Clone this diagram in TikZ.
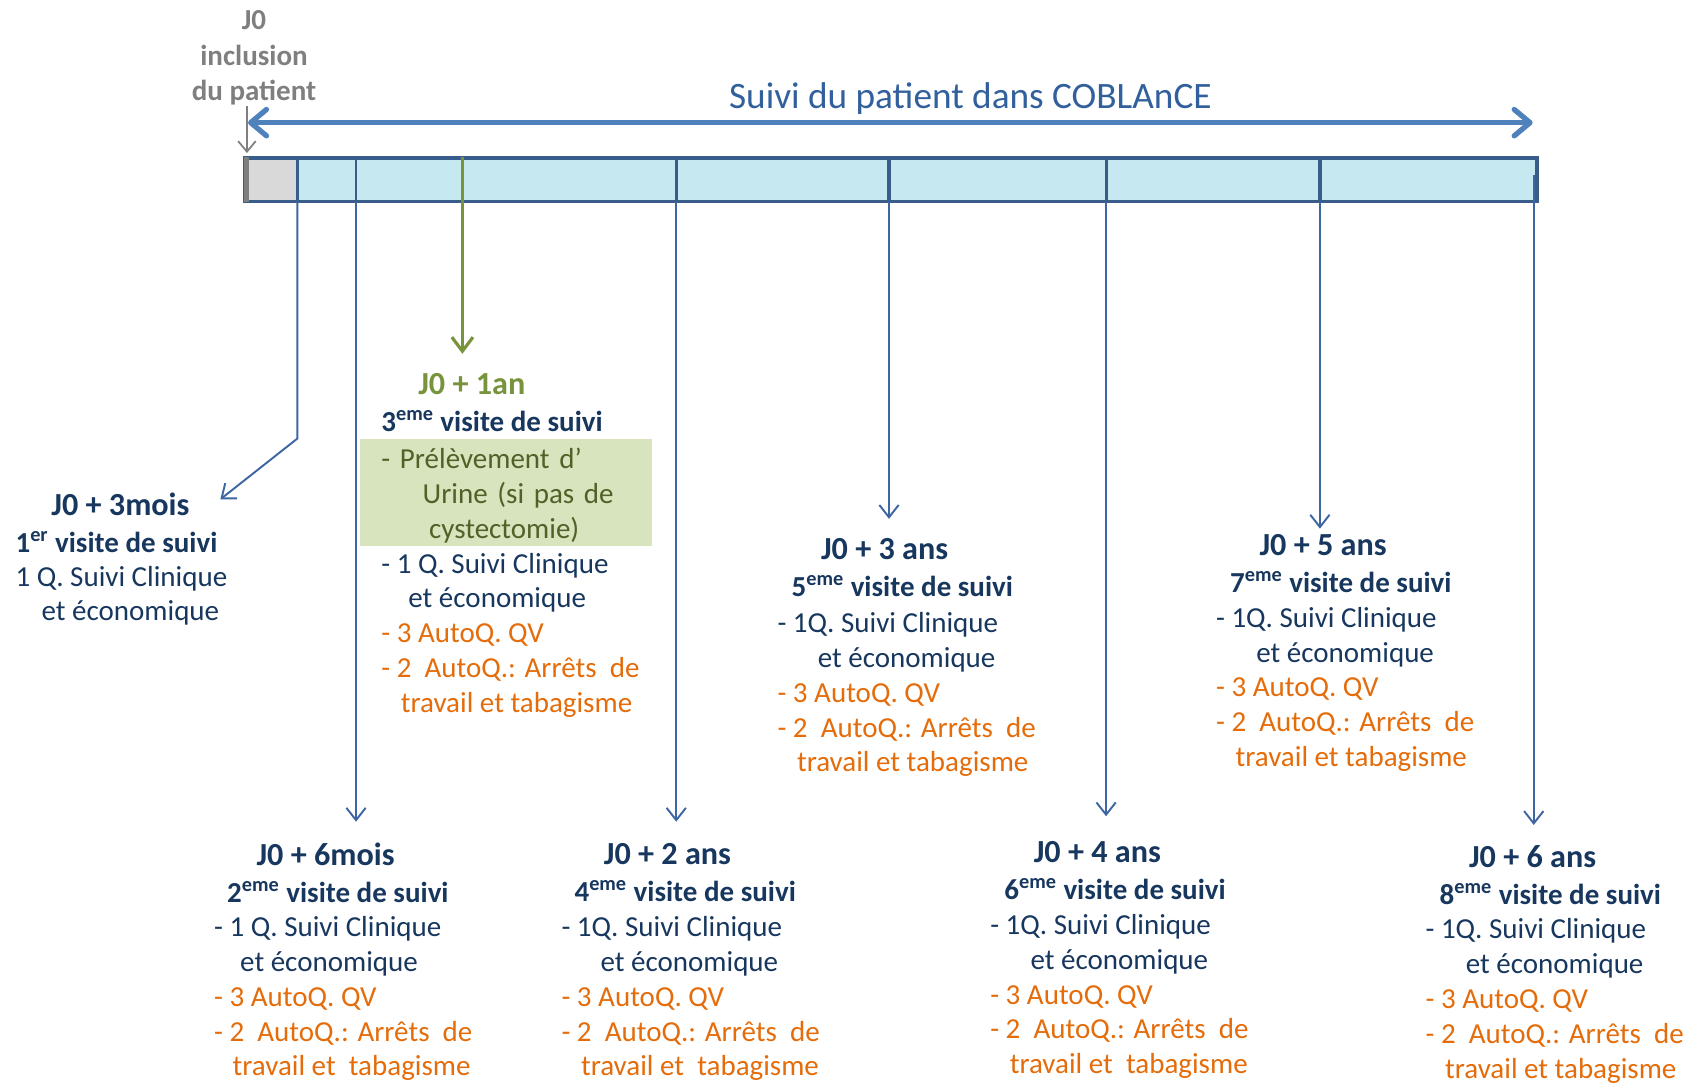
\documentclass[tikz,border=0pt]{standalone}
\usepackage{fontspec}
\setmainfont{Carlito}
\usetikzlibrary{arrows.meta,positioning}

\definecolor{navy}{HTML}{17375E}
\definecolor{orangeQ}{HTML}{E46C0A}
\definecolor{vert}{HTML}{77933C}
\definecolor{vertclair}{HTML}{D7E4BD}
\definecolor{vertfonce}{HTML}{4F6228}
\definecolor{bleutitre}{HTML}{31609C}
\definecolor{bleufleche}{HTML}{4F81BD}
\definecolor{trait}{HTML}{3E66A3}
\definecolor{barreC}{HTML}{385D8A}
\definecolor{bleuclair}{HTML}{C6E8F1}
\definecolor{gristexte}{HTML}{7F7F7F}
\definecolor{grisclair}{HTML}{D9D9D9}

\begin{document}
\begin{tikzpicture}[x=0.0217cm,y=-0.0217cm,
	fleche/.style={draw=trait,line width=1.1pt,-{Straight Barb[length=7pt,width=11pt]}},
	entete/.style={anchor=north west,inner sep=0pt,align=left,text=navy,
		font=\fontsize{16.5}{21}\selectfont\bfseries},
	grand/.style={font=\fontsize{18.3}{21}\selectfont\bfseries},
	liste/.style={anchor=north west,inner sep=0pt,align=left,text=navy,
		font=\fontsize{16.5}{19.8}\selectfont},]
	\useasboundingbox (0,0) rectangle (1568,1000);

	% barre du suivi
	\fill[bleuclair] (225.7,145.5) rectangle (1416,186);
	\fill[grisclair] (225.7,145.5) rectangle (274,186);
	\draw[barreC,line width=1.8pt] (225.7,145.5) rectangle (1416,186);
	\draw[barreC,line width=1.8pt] (274,145.5) -- (274,186);
	\draw[barreC,line width=1.2pt] (328,145.5) -- (328,186);
	\draw[barreC,line width=1.8pt] (623,145.5) -- (623,186);
	\draw[barreC,line width=1.8pt] (819,145.5) -- (819,186);
	\draw[barreC,line width=1.8pt] (1019,145.5) -- (1019,186);
	\draw[barreC,line width=1.8pt] (1216,145.5) -- (1216,186);
	\draw[gristexte,line width=2.8pt] (227,145) -- (227,186.5);

	\node[anchor=north,inner sep=0pt,align=center,text=gristexte,
		font=\fontsize{16.5}{20.4}\selectfont\bfseries] (j0) at (234,9) {J0\\inclusion\\du patient};
	\node[text=bleutitre,font=\fontsize{21.2}{25}\selectfont] (suivi) at (894,91) {Suivi du patient dans COBLAnCE};

	\coordinate (gauche) at (228.5,113);
	\coordinate (droite) at (1412,113);
	\draw[bleufleche,line width=3pt,
		{Straight Barb[length=9pt,width=15pt,round]}-{Straight Barb[length=9pt,width=15pt,round]}] (gauche) -- (droite);
	\draw[gristexte,line width=1pt,-{Straight Barb[length=6pt,width=10pt]}] (j0.south -| 227.5,0) -- (227.5,141);

	% reperes sur la barre
	\coordinate (t3mois) at (274,186);
	\coordinate (c3mois) at (274,404);
	\coordinate (e3mois) at (203,460);
	\coordinate (t6mois) at (328,186);
	\coordinate (e6mois) at (328,757);
	\coordinate (t1an) at (426,145);
	\coordinate (e1an) at (426,326);
	\coordinate (t2ans) at (623,186);
	\coordinate (e2ans) at (623,757);
	\coordinate (t3ans) at (819,186);
	\coordinate (e3ans) at (819,478);
	\coordinate (t4ans) at (1019,186);
	\coordinate (e4ans) at (1019,752);
	\coordinate (t5ans) at (1216,186);
	\coordinate (e5ans) at (1216,487);
	\coordinate (t6ans) at (1413,161);
	\coordinate (e6ans) at (1413,760);

	\draw[fleche] (t3mois) -- (c3mois) -- (e3mois);
	\draw[fleche] (t6mois) -- (e6mois);
	\draw[fleche] (t2ans) -- (e2ans);
	\draw[fleche] (t3ans) -- (e3ans);
	\draw[fleche] (t4ans) -- (e4ans);
	\draw[fleche] (t5ans) -- (e5ans);
	\draw[fleche] (t6ans) -- (e6ans);
	\draw[vert,line width=1.8pt,-{Straight Barb[length=8pt,width=12pt]}] (t1an) -- (e1an);

	% J0 + 3mois
	\node[entete] (h3mois) at (14,454) {\hspace*{20.4pt}{\fontsize{18.3}{21}\selectfont J0 + 3mois}\\1\textsuperscript{er} visite de suivi};
	\node[liste] (l3mois) at (14,521) {1 Q. Suivi Clinique\\\hspace*{14.8pt}et économique};

	% J0 + 6mois
	\node[entete] (h6mois) at (209,776) {\hspace*{16.7pt}{\fontsize{18.3}{21}\selectfont J0 + 6mois}\\2\textsuperscript{eme} visite de suivi};
	\node[liste] (l6mois) at (197,844) {- 1 Q. Suivi Clinique\\\hspace*{14.8pt}et économique\\
		\textcolor{orangeQ}{- 3 AutoQ. QV}\\\textcolor{orangeQ}{- 2~ AutoQ.: Arrêts~ de}\\
		\hspace*{10.5pt}\textcolor{orangeQ}{travail et~ tabagisme}};

	% J0 + 1an
	\node[entete] (h1an) at (351,344) {\hspace*{21pt}{\fontsize{18.3}{21}\selectfont\color{vert}J0 + 1an}\\3\textsuperscript{eme} visite de suivi};
	\node[anchor=north west,fill=vertclair,minimum width=166pt,minimum height=61pt,
		text width=141.3pt,inner xsep=12.35pt,inner ysep=0pt,align=left,text=vertfonce,
		font=\fontsize{16.5}{19.8}\selectfont] (urine) at (331,404)
		{\rule{0pt}{15pt}- Prélèvement d’\\\hspace*{23.5pt}Urine (si pas de\\\hspace*{27.2pt}cystectomie)};
	\node[liste] (l1an) at (351,509) {- 1 Q. Suivi Clinique\\\hspace*{15.4pt}et économique\\
		\textcolor{orangeQ}{- 3 AutoQ. QV}\\\textcolor{orangeQ}{- 2~ AutoQ.: Arrêts~ de}\\
		\hspace*{11.1pt}\textcolor{orangeQ}{travail et tabagisme}};

	% J0 + 2 ans
	\node[entete] (h2ans) at (529,777) {\hspace*{16.7pt}{\fontsize{18.3}{21}\selectfont J0 + 2 ans}\\4\textsuperscript{eme} visite de suivi};
	\node[liste] (l2ans) at (517,844) {- 1Q. Suivi Clinique\\\hspace*{22.2pt}et économique\\
		\textcolor{orangeQ}{- 3 AutoQ. QV}\\\textcolor{orangeQ}{- 2~ AutoQ.: Arrêts~ de}\\
		\hspace*{11.1pt}\textcolor{orangeQ}{travail et~ tabagisme}};

	% J0 + 3 ans
	\node[entete] (h3ans) at (729,496) {\hspace*{16.7pt}{\fontsize{18.3}{21}\selectfont J0 + 3 ans}\\5\textsuperscript{eme} visite de suivi};
	\node[liste] (l3ans) at (716,564) {- 1Q. Suivi Clinique\\\hspace*{22.9pt}et économique\\
		\textcolor{orangeQ}{- 3 AutoQ. QV}\\\textcolor{orangeQ}{- 2~ AutoQ.: Arrêts~ de}\\
		\hspace*{11.1pt}\textcolor{orangeQ}{travail et tabagisme}};

	% J0 + 4 ans
	\node[entete] (h4ans) at (925,775) {\hspace*{16.7pt}{\fontsize{18.3}{21}\selectfont J0 + 4 ans}\\6\textsuperscript{eme} visite de suivi};
	\node[liste] (l4ans) at (912,842) {- 1Q. Suivi Clinique\\\hspace*{22.9pt}et économique\\
		\textcolor{orangeQ}{- 3 AutoQ. QV}\\\textcolor{orangeQ}{- 2~ AutoQ.: Arrêts~ de}\\
		\hspace*{11.1pt}\textcolor{orangeQ}{travail et~ tabagisme}};

	% J0 + 5 ans
	\node[entete] (h5ans) at (1133,492) {\hspace*{16.7pt}{\fontsize{18.3}{21}\selectfont J0 + 5 ans}\\7\textsuperscript{eme} visite de suivi};
	\node[liste] (l5ans) at (1120,559) {- 1Q. Suivi Clinique\\\hspace*{22.9pt}et économique\\
		\textcolor{orangeQ}{- 3 AutoQ. QV}\\\textcolor{orangeQ}{- 2~ AutoQ.: Arrêts~ de}\\
		\hspace*{11.1pt}\textcolor{orangeQ}{travail et tabagisme}};

	% J0 + 6 ans
	\node[entete] (h6ans) at (1326,779) {\hspace*{16.7pt}{\fontsize{18.3}{21}\selectfont J0 + 6 ans}\\8\textsuperscript{eme} visite de suivi};
	\node[liste] (l6ans) at (1313,846) {- 1Q. Suivi Clinique\\\hspace*{22.9pt}et économique\\
		\textcolor{orangeQ}{- 3 AutoQ. QV}\\\textcolor{orangeQ}{- 2~ AutoQ.: Arrêts~ de}\\
		\hspace*{11.1pt}\textcolor{orangeQ}{travail et tabagisme}};
\end{tikzpicture}
\end{document}
